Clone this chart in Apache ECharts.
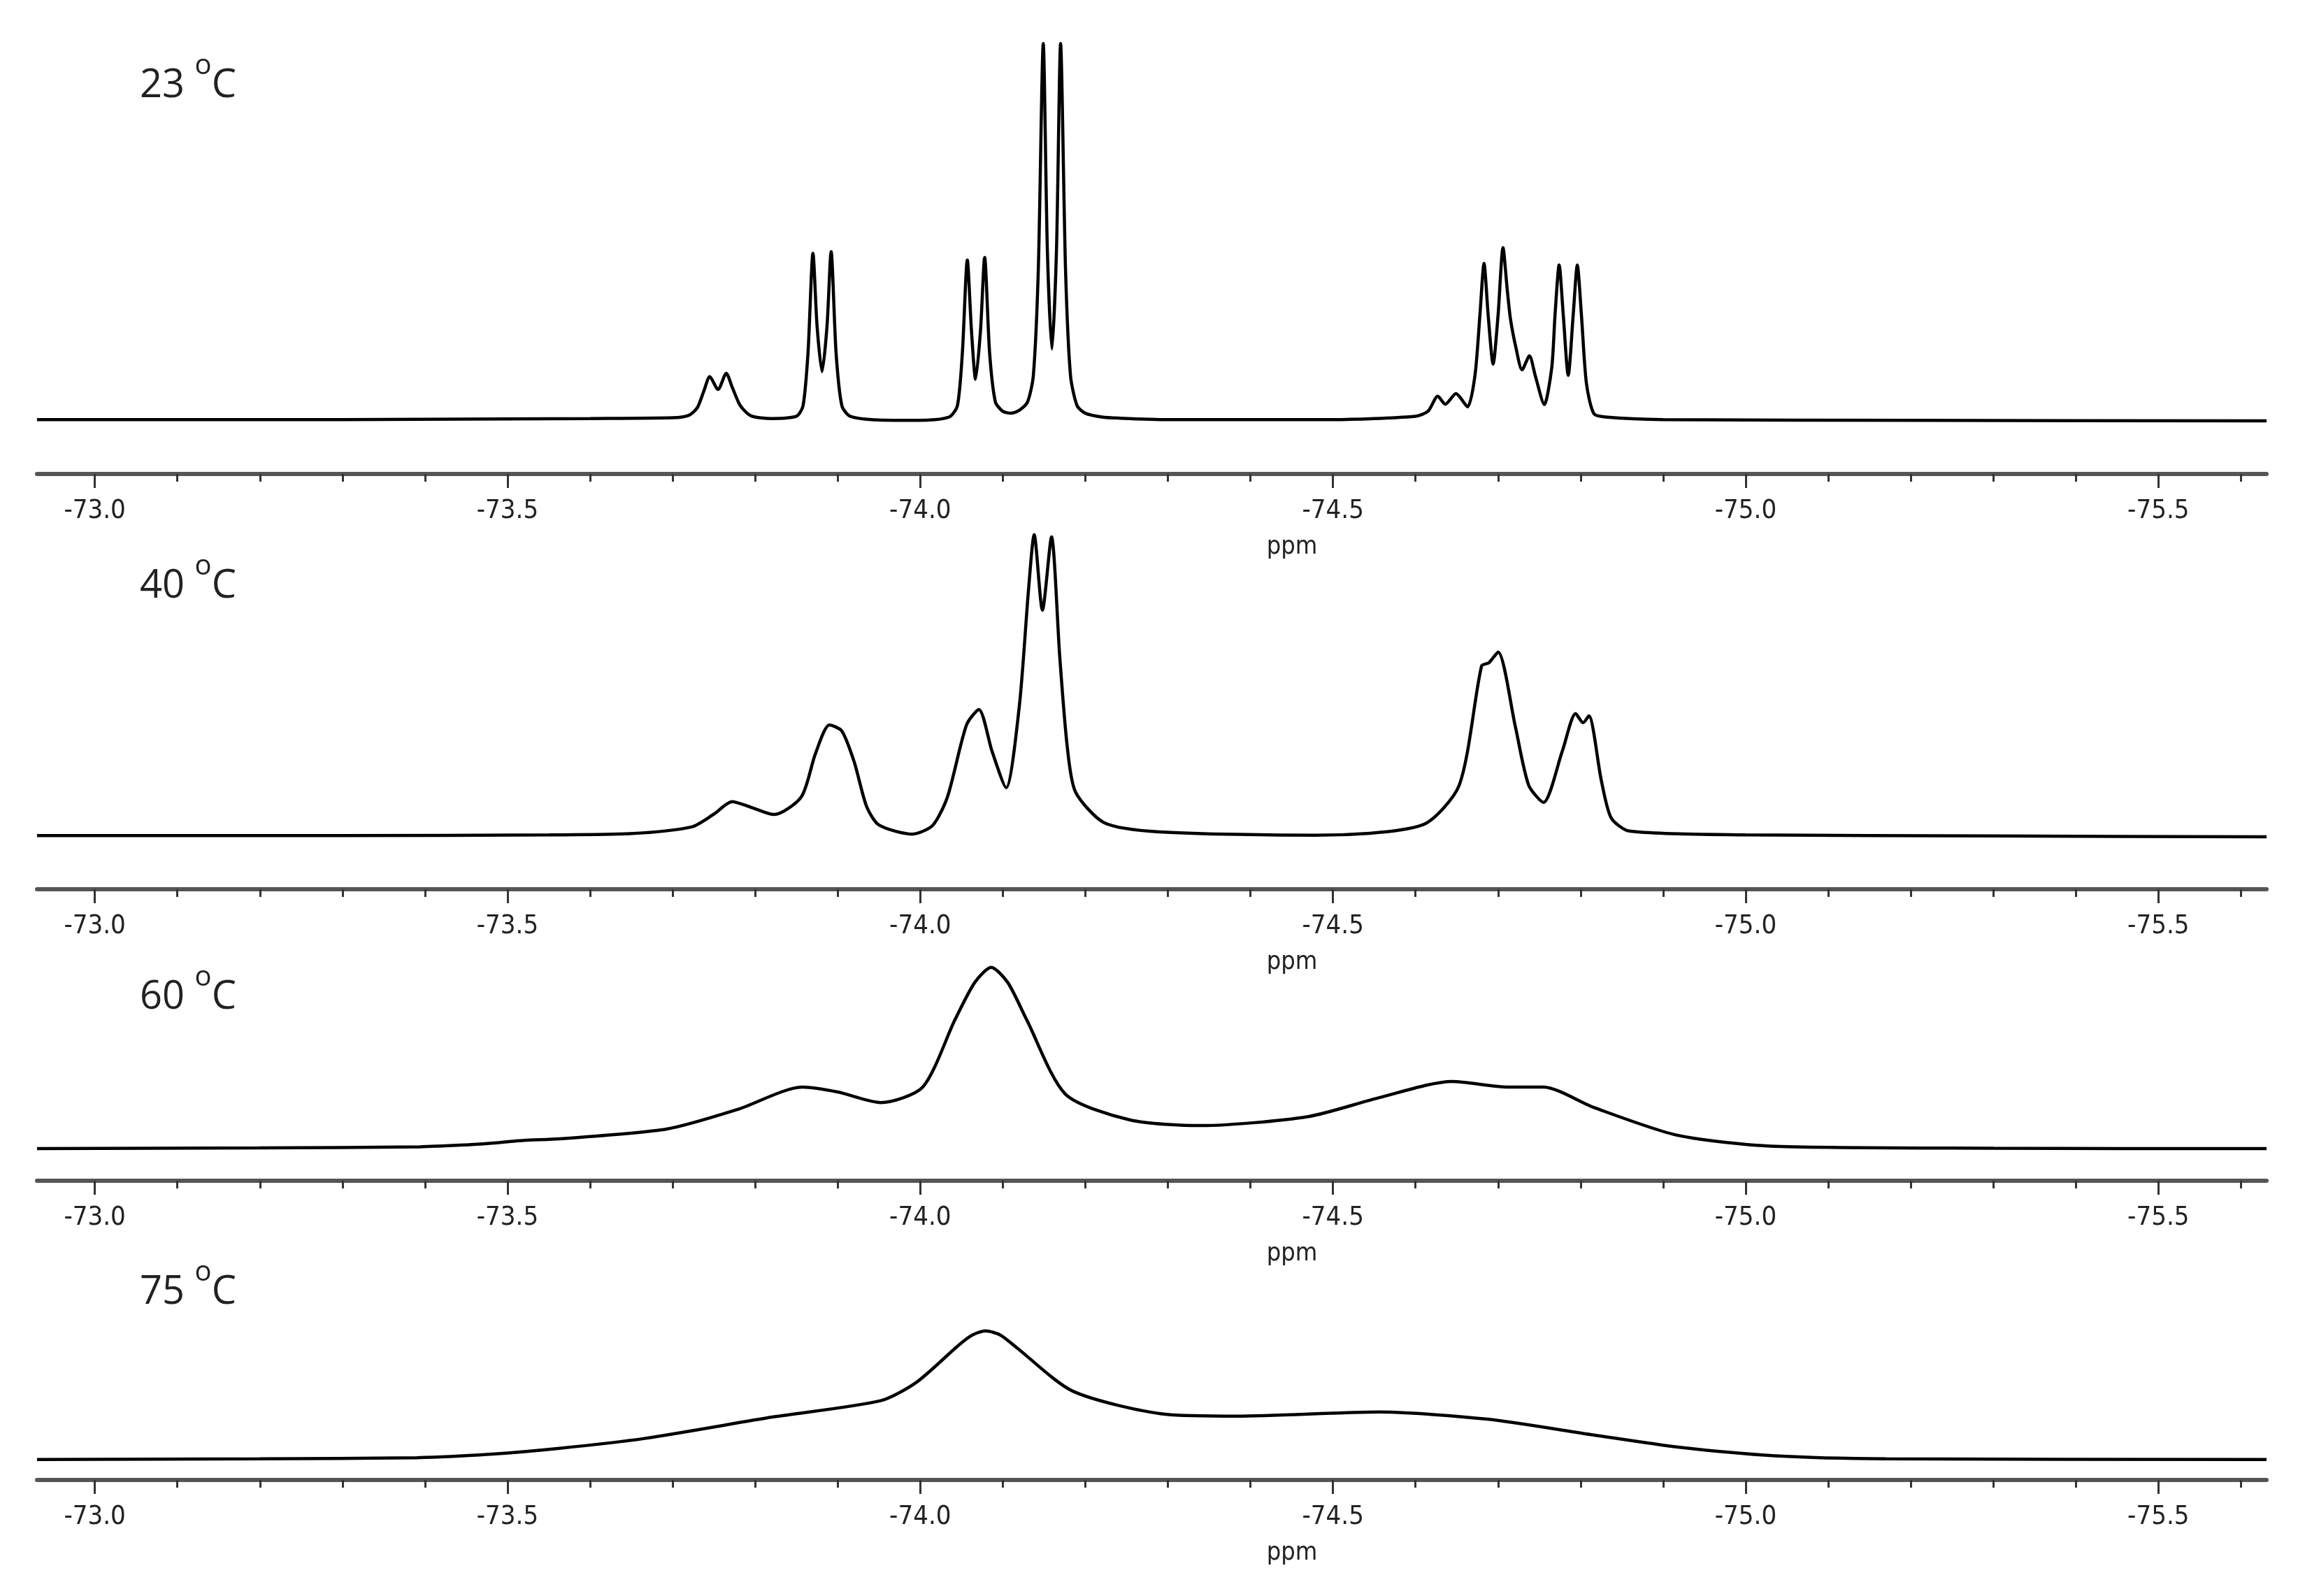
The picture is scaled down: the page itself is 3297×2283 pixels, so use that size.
<!DOCTYPE html>
<html>
<head>
<meta charset="utf-8">
<script src="https://cdn.jsdelivr.net/npm/echarts@6/dist/echarts.min.js"></script>
<style>
  html, body { margin: 0; padding: 0; background: #fff; }
  #chart { width: 3297px; height: 2283px; }
</style>
</head>
<body>
<div id="chart"></div>
<script>
// temperatures of the four spectra
const temps = ['23', '40', '60', '75'];

// axis ticks (ppm)
const majorTicks = [-73.0, -73.5, -74.0, -74.5, -75.0, -75.5];
const minorTicks = [-73.0, -73.1, -73.2, -73.3, -73.4, -73.5, -73.6, -73.7, -73.8, -73.9,
  -74.0, -74.1, -74.2, -74.3, -74.4, -74.5, -74.6, -74.7, -74.8, -74.9,
  -75.0, -75.1, -75.2, -75.3, -75.4, -75.5, -75.6];

// spectra: [ppm, intensity]
const spec23 = [
  [-72.93, 0.3], [-73.3, 0.3], [-73.5, 0.5], [-73.6, 0.6], [-73.7, 0.8],
  [-73.72, 1.5], [-73.73, 3.5], [-73.738, 8], [-73.745, 11.7], [-73.755, 8.3], [-73.765, 12.6],
  [-73.772, 9], [-73.782, 4], [-73.795, 1.3], [-73.82, 0.6],
  [-73.85, 1.2], [-73.858, 4], [-73.864, 18], [-73.870, 44.4], [-73.875, 25], [-73.881, 13],
  [-73.887, 25], [-73.892, 44.8], [-73.898, 18], [-73.905, 4], [-73.915, 1.2], [-73.95, 0.2], [-74.0, 0.1],
  [-74.035, 1], [-74.045, 4], [-74.051, 18], [-74.057, 42.6], [-74.062, 24], [-74.067, 11],
  [-74.073, 24], [-74.078, 43.3], [-74.084, 18], [-74.091, 5], [-74.10, 2.5], [-74.11, 2],
  [-74.12, 2.8], [-74.13, 5],
  [-74.137, 12], [-74.143, 40], [-74.149, 100], [-74.154, 45], [-74.1595, 19], [-74.165, 45],
  [-74.170, 100], [-74.176, 40], [-74.182, 12], [-74.19, 4], [-74.20, 2], [-74.22, 1],
  [-74.24, 0.7], [-74.3, 0.3], [-74.5, 0.3], [-74.6, 1.2],
  [-74.615, 2.5], [-74.627, 6.5], [-74.636, 4.4], [-74.649, 7.2], [-74.663, 3.7], [-74.672, 12],
  [-74.678, 28], [-74.683, 41.7], [-74.688, 28], [-74.694, 15], [-74.700, 28], [-74.706, 45.9],
  [-74.711, 35], [-74.715, 27], [-74.722, 19], [-74.729, 13.5], [-74.738, 17.2], [-74.745, 12],
  [-74.756, 4.3], [-74.765, 14], [-74.769, 28], [-74.774, 41.3], [-74.779, 28], [-74.785, 12],
  [-74.791, 28], [-74.796, 41.3], [-74.801, 28], [-74.807, 10], [-74.816, 1.9], [-74.83, 1],
  [-74.9, 0.3], [-75.2, 0.1], [-75.631, 0]
];
const spec40 = [
  [-72.93, 0.3], [-73.3, 0.3], [-73.55, 0.5], [-73.648, 0.8], [-73.723, 2.6], [-73.75, 6],
  [-73.772, 9.3], [-73.795, 7.8], [-73.823, 5.9], [-73.856, 10.6], [-73.873, 22], [-73.890, 29.6],
  [-73.905, 28], [-73.920, 19.8], [-73.935, 8], [-73.950, 3.1], [-73.990, 0.7],
  [-74.015, 3], [-74.033, 10.6], [-74.056, 29.6], [-74.071, 33.7], [-74.087, 22.6], [-74.104, 13],
  [-74.120, 34.6], [-74.131, 65], [-74.138, 80], [-74.148, 60], [-74.159, 79.4], [-74.169, 47.6],
  [-74.178, 24], [-74.188, 11.9], [-74.223, 3.7], [-74.290, 1.3], [-74.479, 0.4],
  [-74.608, 3.1], [-74.653, 13.7], [-74.680, 45.2], [-74.689, 46.1], [-74.700, 48.9],
  [-74.721, 29.1], [-74.737, 13.7], [-74.755, 9.1], [-74.778, 22.8], [-74.794, 32.6],
  [-74.803, 30.2], [-74.810, 32], [-74.825, 15], [-74.837, 5], [-74.859, 1.5], [-75.0, 0.5],
  [-75.3, 0.2], [-75.631, 0]
];
const spec60 = [
  [-72.93, 0], [-73.2, 0.2], [-73.394, 0.5], [-73.45, 1], [-73.478, 1.4], [-73.52, 2.2],
  [-73.563, 2.6], [-73.693, 5.2], [-73.779, 10.4], [-73.857, 16.3], [-73.90, 15], [-73.952, 12.2],
  [-74.003, 16.3], [-74.042, 34.1], [-74.066, 44], [-74.086, 48], [-74.106, 44], [-74.129, 34.1],
  [-74.176, 14.4], [-74.254, 7.6], [-74.340, 6.1], [-74.470, 8.5], [-74.556, 13.5], [-74.644, 17.8],
  [-74.712, 16.3], [-74.755, 16.3], [-74.816, 10.9], [-74.918, 3.5], [-75.036, 0.6],
  [-75.3, 0.1], [-75.631, 0]
];
const spec75 = [
  [-72.93, 0], [-73.2, 0.2], [-73.39, 0.5], [-73.478, 1.4], [-73.563, 3], [-73.666, 5.6],
  [-73.822, 11.3], [-73.952, 15.6], [-73.995, 20.4], [-74.047, 30.4], [-74.063, 33], [-74.079, 34.1],
  [-74.097, 33], [-74.116, 29.8], [-74.185, 18.1], [-74.297, 12], [-74.384, 11.5], [-74.556, 12.6],
  [-74.687, 10.7], [-74.816, 6.5], [-74.918, 3.3], [-75.036, 1], [-75.17, 0.2], [-75.631, 0]
];
const spectra = [spec23, spec40, spec60, spec75];

// panel layout in pixels
const axisY = [678, 1272, 1689, 2117];
const gridTop = [40, 740, 1340, 1860];
const yMin = [-14.1, -13.9, -8.5, -5.4];
const yMax = [104.1, 84.6, 56.1, 42.2];
const labelY = [110, 826, 1414, 1836];

const chart = echarts.init(document.getElementById('chart'));
const W = 3297, H = 2283;
const tickFont = "'Liberation Sans Narrow', 'DejaVu Sans Condensed', sans-serif";

const grids = [], xAxes = [], yAxes = [], series = [], titles = [];
temps.forEach((t, i) => {
  grids.push({ left: 53, right: 55, top: gridTop[i], bottom: H - axisY[i] });
  // minor ticks + axis line + labels
  xAxes.push({
    type: 'value', gridIndex: i, inverse: true, min: -75.631, max: -72.93,
    position: 'bottom',
    axisLine: { show: true, onZero: false, lineStyle: { color: '#555', width: 6 } },
    axisTick: { show: true, length: 11, lineStyle: { color: '#333', width: 3 }, customValues: minorTicks },
    axisLabel: {
      show: true, customValues: majorTicks, margin: 34,
      formatter: v => v.toFixed(1),
      fontFamily: tickFont, fontSize: 38, color: '#222'
    },
    splitLine: { show: false }
  });
  // longer major ticks
  xAxes.push({
    type: 'value', gridIndex: i, inverse: true, min: -75.631, max: -72.93,
    position: 'bottom',
    axisLine: { show: false, onZero: false },
    axisTick: { show: true, length: 20, lineStyle: { color: '#333', width: 3 }, customValues: majorTicks },
    axisLabel: { show: false },
    splitLine: { show: false }
  });
  yAxes.push({ type: 'value', gridIndex: i, min: yMin[i], max: yMax[i], show: false });
  series.push({
    type: 'line', xAxisIndex: i * 2, yAxisIndex: i, data: spectra[i],
    showSymbol: false, smooth: 0.25, silent: true,
    lineStyle: { color: '#000', width: 4.5 }
  });
  titles.push({
    text: '{a|' + t + ' }{s|o}{a|C}', left: 195, top: labelY[i] - 40,
    textStyle: {
      rich: {
        a: { fontFamily: 'Open Sans', fontSize: 56, fontWeight: 'normal', color: '#222', verticalAlign: 'bottom', lineHeight: 76 },
        s: { fontFamily: 'Open Sans', fontSize: 40, fontWeight: 'normal', color: '#222', verticalAlign: 'top', lineHeight: 76, padding: [0, 0, 22, 0] }
      }
    }
  });
  titles.push({
    text: 'ppm', left: 1843, top: axisY[i] + 82, textAlign: 'center',
    textStyle: { fontFamily: tickFont, fontSize: 36, fontWeight: 'normal', color: '#222' }
  });
});

chart.setOption({
  animation: false,
  backgroundColor: '#fff',
  title: titles,
  grid: grids,
  xAxis: xAxes,
  yAxis: yAxes,
  series: series
});
</script>
</body>
</html>
